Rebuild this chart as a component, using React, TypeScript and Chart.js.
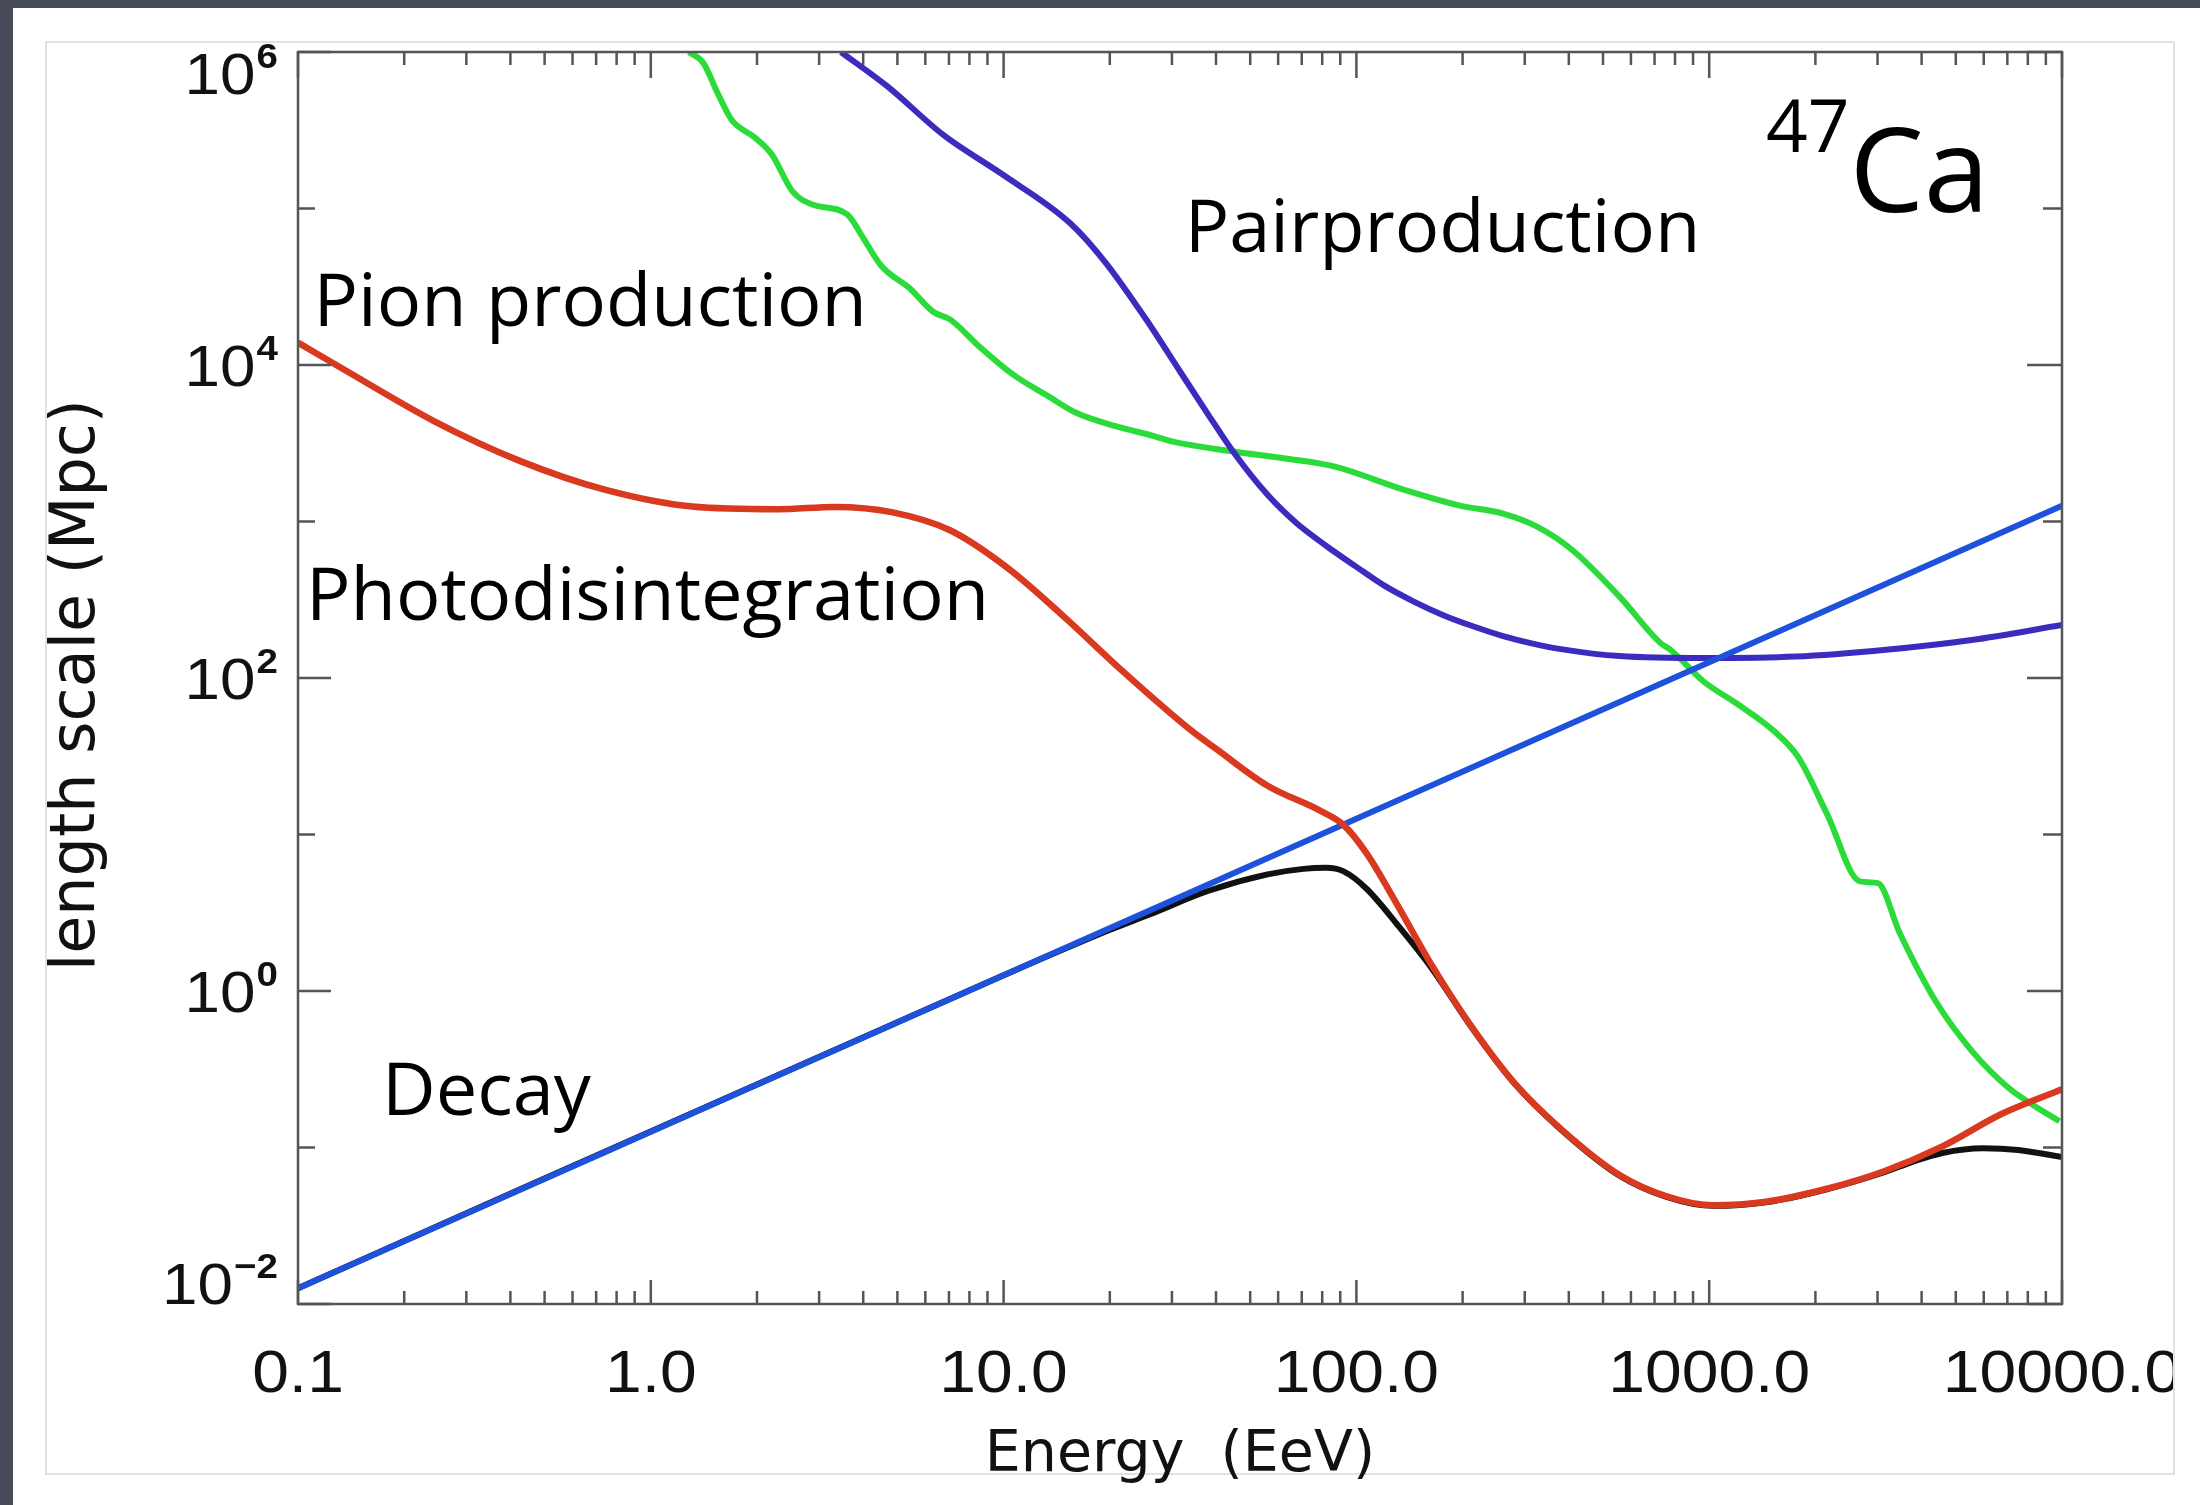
import React, { useEffect, useRef } from 'react';
import { Chart, registerables } from 'chart.js';

Chart.register(...registerables);

// ---------------- data (Energy in EeV, length scale in Mpc) ----------------
const decayEnergy = [0.1, 10000];
const decayLength = [0.0126, 1260];

const photoEnergy = [0.1, 0.138, 0.242, 0.425, 0.745, 1.31, 2.3, 3.33, 4.85, 7.05, 10.3, 14.9, 21.7, 33.7, 40.4, 56.0, 78.9, 92.0, 107, 130, 163, 214, 279, 379, 557, 757, 1028, 1449, 2128, 3119, 4581, 6714, 10000];
const photoLength = [13900, 9080, 4400, 2440, 1590, 1245, 1197, 1239, 1143, 879, 502, 244, 111, 47.0, 34.7, 20.5, 14.2, 11.5, 7.55, 3.62, 1.48, 0.575, 0.262, 0.132, 0.0667, 0.0488, 0.0427, 0.045, 0.0541, 0.0703, 0.1016, 0.163, 0.2355];

const pionEnergy = [1.282, 1.409, 1.549, 1.698, 1.972, 2.208, 2.518, 2.871, 3.597, 4.018, 4.498, 5.433, 6.31, 7.063, 8.511, 10.67, 13.34, 16.11, 20.89, 26.0, 30.4, 44.3, 64.4, 86.9, 136, 198, 259, 325, 409, 557, 728, 778, 964, 1194, 1514, 1786, 2158, 2673, 3006, 3467, 4395, 5572, 7063, 8337, 9840];
const pionLength = [1000000, 851000, 542000, 366000, 284000, 220000, 129000, 106000, 92000, 63800, 43100, 30700, 21900, 19500, 13200, 8650, 6350, 4930, 4050, 3570, 3230, 2810, 2510, 2240, 1600, 1259, 1127, 927, 658, 331, 167, 151, 95, 68.9, 46.5, 31.3, 13.5, 5.02, 4.89, 2.35, 0.853, 0.41, 0.24, 0.185, 0.147];

const pairEnergy = [3.459, 4.667, 6.79, 9.89, 15.5, 19.4, 25.2, 31.6, 38.1, 44.7, 56.0, 67.6, 82.0, 100, 120, 145, 177, 214, 259, 316, 380, 557, 989, 1758, 3119, 5546, 10000];
const pairLength = [1000000, 607000, 292000, 166000, 80000, 45500, 19950, 9120, 4790, 2800, 1480, 977, 700, 513, 389, 309, 251, 214, 186, 166, 153, 138, 134, 137, 151, 175, 218];

const totalEnergy = [0.1, 10, 19.95, 26.0, 38.1, 56.0, 70.8, 82.0, 92.0, 107.2, 130, 163, 214, 279, 379, 557, 757, 1028, 1449, 2128, 3119, 3784, 4581, 5970, 7516, 10000];
const totalLength = [0.0126, 1.26, 2.45, 3.09, 4.37, 5.56, 6.03, 6.12, 5.81, 4.47, 2.69, 1.41, 0.569, 0.26, 0.131, 0.0661, 0.0484, 0.0424, 0.0447, 0.0537, 0.0692, 0.0813, 0.0923, 0.0989, 0.0964, 0.0869];

// ---------------- axes ----------------
const energyTicks = [0.1, 1, 10, 100, 1000, 10000];
const energyTickLabels = ['0.1', '1.0', '10.0', '100.0', '1000.0', '10000.0'];
const energyMinorMultipliers = [2, 3, 4, 5, 6, 7, 8, 9];
const lengthMajorTicks = [1e-2, 1, 1e2, 1e4, 1e6];
const lengthMajorExponents = ['\u22122', '0', '2', '4', '6'];
const lengthMinorTicks = [1e-1, 10, 1e3, 1e5];

const xTitle = 'Energy  (EeV)';
const yTitle = 'length scale (Mpc)';

// ---------------- annotations (anchored in data coordinates) ----------------
const annotationText = ['Pion production', 'Photodisintegration', 'Pairproduction', 'Decay'];
const annotationEnergy = [0.1107, 0.1054, 32.6, 0.173];
const annotationLength = [17880, 234.7, 52960, 0.1614];
const isotopeMass = '47';
const isotopeSymbol = 'Ca';
const isotopeEnergy = 1449;
const isotopeLength = 229600;

const W = 2200;
const H = 1505;

const pts = (xs: number[], ys: number[]) => xs.map((x, i) => ({ x, y: ys[i] }));

export default function App() {
  const ref = useRef<HTMLCanvasElement | null>(null);

  useEffect(() => {
    const canvas = ref.current;
    if (!canvas) return;

    const framePlugin = {
      id: 'framePlugin',
      beforeDraw(chart: any) {
        const ctx = chart.ctx as CanvasRenderingContext2D;
        ctx.save();
        ctx.fillStyle = '#474b57';
        ctx.fillRect(0, 0, W, H);
        ctx.fillStyle = '#ffffff';
        ctx.fillRect(13, 8, W - 13, H - 8);
        ctx.strokeStyle = '#e2e2e2';
        ctx.lineWidth = 2;
        ctx.strokeRect(46, 42, 2128, 1432);
        ctx.restore();
      },
      afterDatasetsDraw(chart: any) {
        const ctx = chart.ctx as CanvasRenderingContext2D;
        const a = chart.chartArea;
        const xs = chart.scales.x;
        const ys = chart.scales.y;
        ctx.save();
        ctx.strokeStyle = '#555555';
        ctx.lineWidth = 2.5;
        ctx.lineCap = 'butt';
        const seg = (x1: number, y1: number, x2: number, y2: number) => {
          ctx.beginPath();
          ctx.moveTo(x1, y1);
          ctx.lineTo(x2, y2);
          ctx.stroke();
        };
        // x ticks
        energyTicks.forEach((v) => {
          const px = xs.getPixelForValue(v);
          seg(px, a.bottom, px, a.bottom - 24);
          seg(px, a.top, px, a.top + 26);
        });
        energyTicks.slice(0, -1).forEach((d) => {
          energyMinorMultipliers.forEach((m) => {
            const px = xs.getPixelForValue(d * m);
            seg(px, a.bottom, px, a.bottom - 13);
            seg(px, a.top, px, a.top + 13);
          });
        });
        // y ticks
        lengthMajorTicks.forEach((v) => {
          const py = ys.getPixelForValue(v);
          seg(a.left, py, a.left + 33, py);
          seg(a.right, py, a.right - 35, py);
        });
        lengthMinorTicks.forEach((v) => {
          const py = ys.getPixelForValue(v);
          seg(a.left, py, a.left + 17, py);
          seg(a.right, py, a.right - 19, py);
        });
        // frame
        ctx.strokeRect(a.left, a.top, a.right - a.left, a.bottom - a.top);

        ctx.fillStyle = '#111111';
        ctx.textBaseline = 'alphabetic';

        // x tick labels (clipped at the panel border, as in the slide)
        ctx.save();
        ctx.beginPath();
        ctx.rect(47, 43, 2126, 1430);
        ctx.clip();
        ctx.font = '60px "Liberation Sans", Arial, sans-serif';
        ctx.textAlign = 'center';
        energyTicks.forEach((v, i) => {
          ctx.save();
          ctx.translate(xs.getPixelForValue(v), a.bottom + 88);
          ctx.scale(1.1, 1);
          ctx.fillText(energyTickLabels[i], 0, 0);
          ctx.restore();
        });
        ctx.restore();

        // y tick labels 10^n
        lengthMajorTicks.forEach((v, i) => {
          const py = ys.getPixelForValue(v);
          const c = Math.min(Math.max(py, a.top + 21), a.bottom - 21);
          const right = a.left - 20;
          ctx.save();
          ctx.translate(right, 0);
          ctx.scale(1.1, 1);
          ctx.textAlign = 'right';
          ctx.font = 'bold 35px "Liberation Sans", Arial, sans-serif';
          const sup = lengthMajorExponents[i];
          const ws = ctx.measureText(sup).width;
          ctx.fillText(sup, 0, c - 5);
          ctx.font = '58px "Liberation Sans", Arial, sans-serif';
          ctx.fillText('10', -ws - 1, c + 21);
          ctx.restore();
        });

        // axis titles
        ctx.textAlign = 'center';
        ctx.font = '57px "DejaVu Sans", sans-serif';
        ctx.fillText(xTitle, (a.left + a.right) / 2, a.bottom + 167);
        ctx.save();
        ctx.font = '62px "DejaVu Sans", sans-serif';
        ctx.translate(94, (a.top + a.bottom) / 2 + 7);
        ctx.rotate(-Math.PI / 2);
        ctx.fillText(yTitle, 0, 0);
        ctx.restore();

        // annotations
        ctx.fillStyle = '#000000';
        ctx.textAlign = 'left';
        ctx.font = '74px "Open Sans", sans-serif';
        annotationText.forEach((t, i) => {
          ctx.fillText(t, xs.getPixelForValue(annotationEnergy[i]), ys.getPixelForValue(annotationLength[i]));
        });
        const ix = xs.getPixelForValue(isotopeEnergy);
        const iy = ys.getPixelForValue(isotopeLength);
        ctx.font = '73px "Open Sans", sans-serif';
        ctx.fillText(isotopeMass, ix, iy);
        const wm = ctx.measureText(isotopeMass).width;
        ctx.font = '118px "Open Sans", sans-serif';
        ctx.fillText(isotopeSymbol, ix + wm, iy + 60);
        ctx.restore();
      },
    };

    const ds = (label: string, xs: number[], ys: number[], color: string, width: number) => ({
      label,
      data: pts(xs, ys),
      borderColor: color,
      backgroundColor: color,
      borderWidth: width,
      pointRadius: 0,
      fill: false,
      clip: 0,
      cubicInterpolationMode: 'monotone' as const,
    });

    const chart = new Chart(canvas, {
      type: 'line',
      data: {
        datasets: [
          ds('Photodisintegration', photoEnergy, photoLength, '#d8391f', 6.5),
          ds('Decay', decayEnergy, decayLength, '#1f52dc', 6),
          ds('Pairproduction', pairEnergy, pairLength, '#3b2cbf', 6),
          ds('Pion production', pionEnergy, pionLength, '#2bdb3a', 6),
          ds('Total', totalEnergy, totalLength, '#111111', 6),
        ],
      },
      options: {
        responsive: false,
        animation: false,
        devicePixelRatio: 1,
        events: [],
        layout: { padding: { left: 298, top: 52, right: W - 2062, bottom: H - 1304 } },
        plugins: { legend: { display: false }, tooltip: { enabled: false } },
        scales: {
          x: { type: 'logarithmic', min: 0.1, max: 10000, display: false },
          y: { type: 'logarithmic', min: 0.01, max: 1e6, display: false },
        },
      },
      plugins: [framePlugin],
    } as any);

    let alive = true;
    if ((document as any).fonts && (document as any).fonts.ready) {
      (document as any).fonts.ready.then(() => {
        if (alive) chart.update();
      });
    }
    return () => {
      alive = false;
      chart.destroy();
    };
  }, []);

  return (
    <div style={{ position: 'absolute', left: 0, top: 0, width: W, height: H }}>
      <canvas ref={ref} width={W} height={H} style={{ display: 'block', width: W, height: H }} />
    </div>
  );
}
